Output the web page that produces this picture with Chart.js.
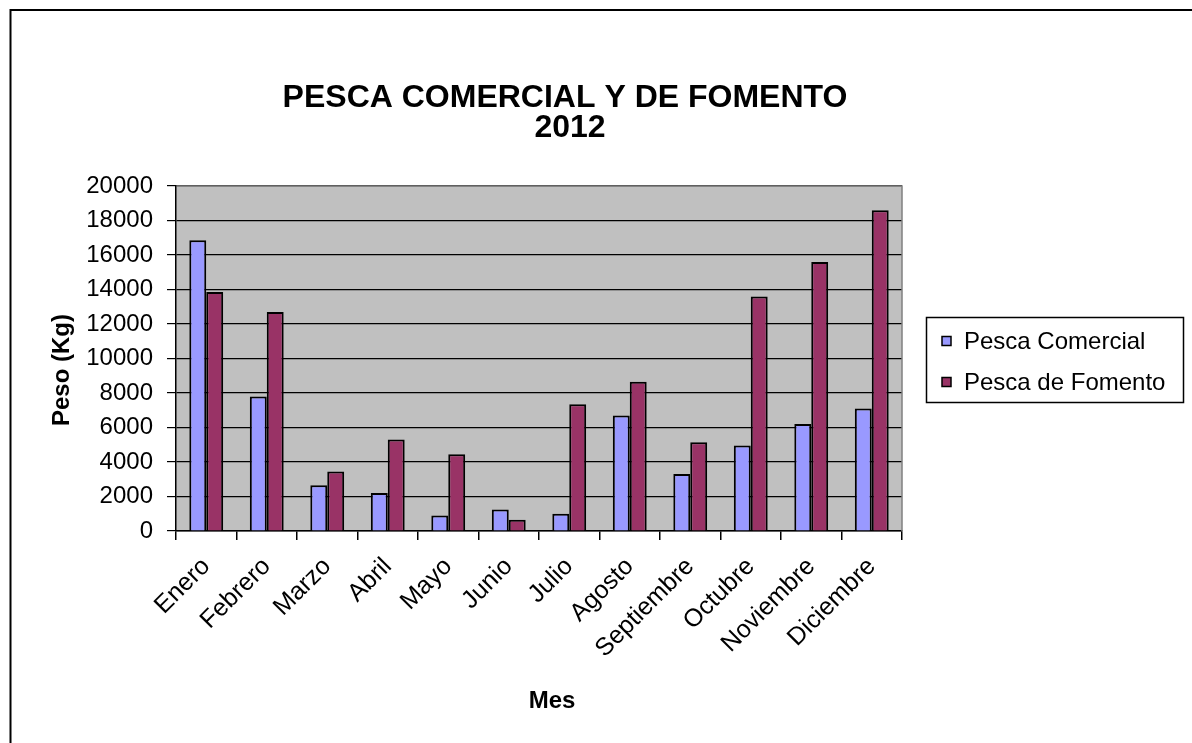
<!DOCTYPE html>
<html>
<head>
<meta charset="utf-8">
<script src="https://cdn.jsdelivr.net/npm/chart.js@4.4.1/dist/chart.umd.min.js"></script>
<style>
  html, body { margin: 0; padding: 0; background: #ffffff; }
  #wrap { width: 1192px; height: 743px; }
</style>
</head>
<body>
<div id="wrap"><canvas id="c" width="1192" height="743"></canvas></div>
<script>
const categories = ['Enero', 'Febrero', 'Marzo', 'Abril', 'Mayo', 'Junio', 'Julio', 'Agosto', 'Septiembre', 'Octubre', 'Noviembre', 'Diciembre'];
const pescaComercial = [16850, 7800, 2650, 2200, 900, 1250, 1000, 6700, 3300, 4950, 6200, 7100];
const pescaFomento = [13850, 12700, 3450, 5300, 4450, 650, 7350, 8650, 5150, 13600, 15600, 18600];
const seriesNames = ['Pesca Comercial', 'Pesca de Fomento'];
const seriesColors = ['#9999FF', '#993366'];
const titleLines = ['PESCA COMERCIAL Y DE FOMENTO', '2012'];
const yAxisTitle = 'Peso (Kg)';
const xAxisTitle = 'Mes';
const yMin = 0, yMax = 20000, yStep = 2000;

const FONT = '"Liberation Sans", Arial, sans-serif';

const decor = {
  id: 'decor',
  beforeDraw(chart) {
    const ctx = chart.ctx, a = chart.chartArea;
    ctx.save();
    ctx.fillStyle = '#ffffff';
    ctx.fillRect(0, 0, chart.width, chart.height);
    ctx.fillStyle = '#C0C0C0';
    ctx.fillRect(a.left, a.top, a.right - a.left, a.bottom - a.top);
    ctx.restore();
  },
  beforeDatasetsDraw(chart) {
    const ctx = chart.ctx, a = chart.chartArea;
    ctx.save();
    ctx.strokeStyle = '#808080';
    ctx.lineWidth = 1.5;
    ctx.beginPath();
    ctx.moveTo(a.left + 1, a.top);
    ctx.lineTo(a.right, a.top);
    ctx.lineTo(a.right, a.bottom);
    ctx.stroke();
    ctx.restore();
  },
  afterDraw(chart) {
    const ctx = chart.ctx;
    ctx.save();
    // outer frame
    ctx.strokeStyle = '#000';
    ctx.lineWidth = 2;
    ctx.beginPath();
    ctx.moveTo(1200, 10);
    ctx.lineTo(10.5, 10);
    ctx.lineTo(10.5, 760);
    ctx.stroke();

    // title
    ctx.fillStyle = '#000';
    ctx.textAlign = 'center';
    ctx.textBaseline = 'middle';
    ctx.font = 'bold 32px ' + FONT;
    ctx.fillText(titleLines[0], 565, 98);
    ctx.fillText(titleLines[1], 570, 128);

    // y title
    ctx.font = 'bold 24px ' + FONT;
    ctx.save();
    ctx.translate(62, 370);
    ctx.rotate(-Math.PI / 2);
    ctx.fillText(yAxisTitle, 0, 0);
    ctx.restore();

    // x title
    ctx.fillText(xAxisTitle, 552, 701);

    // legend
    ctx.lineWidth = 1.5;
    ctx.strokeStyle = '#000';
    ctx.strokeRect(926.5, 317.5, 257, 85);
    ctx.font = '24px ' + FONT;
    ctx.textAlign = 'left';
    const rows = [341, 382];
    chart.data.datasets.forEach((ds, i) => {
      const y = rows[i];
      ctx.fillStyle = ds.backgroundColor;
      ctx.fillRect(942, y - 4.5, 9, 9);
      ctx.strokeRect(942, y - 4.5, 9, 9);
      ctx.fillStyle = '#000';
      ctx.fillText(ds.label, 964, y + 1);
    });
    ctx.restore();
  }
};

new Chart(document.getElementById('c'), {
  type: 'bar',
  data: {
    labels: categories,
    datasets: [
      { label: seriesNames[0], data: pescaComercial, backgroundColor: seriesColors[0], borderColor: '#000', borderWidth: 2 },
      { label: seriesNames[1], data: pescaFomento, backgroundColor: seriesColors[1], borderColor: '#000', borderWidth: 2 }
    ]
  },
  options: {
    responsive: false,
    animation: false,
    devicePixelRatio: 1,
    layout: { padding: { left: 0, top: 186, right: 290, bottom: 0 } },
    datasets: { bar: { categoryPercentage: 0.56, barPercentage: 1.0 } },
    plugins: { legend: { display: false }, title: { display: false }, tooltip: { enabled: false } },
    scales: {
      x: {
        afterFit(scale) { scale.height = 212; },
        grid: { display: true, drawOnChartArea: false, drawTicks: true, tickLength: 9, color: '#000', lineWidth: 1.5, offset: true },
        border: { display: true, color: '#000', width: 1.5 },
        ticks: { color: '#000', font: { family: FONT, size: 25 }, minRotation: 45, maxRotation: 45, autoSkip: false, padding: 12 }
      },
      y: {
        min: yMin, max: yMax,
        afterFit(scale) { scale.width = 176; },
        grid: { color: '#000', lineWidth: 1.2, tickLength: 9 },
        border: { display: true, color: '#000', width: 1.5 },
        ticks: { stepSize: yStep, color: '#000', font: { family: FONT, size: 24 }, padding: 14,
                 callback: (v) => String(v) }
      }
    }
  },
  plugins: [decor]
});
</script>
</body>
</html>
